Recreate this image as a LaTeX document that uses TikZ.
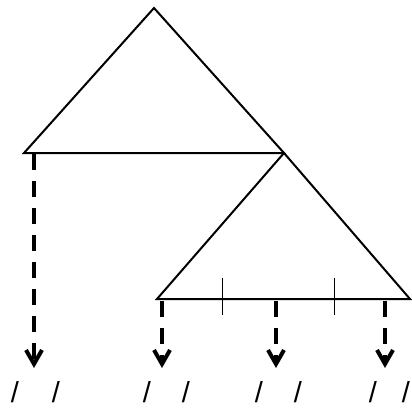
\documentclass[tikz,border=0pt]{standalone}
\usepackage{fontspec}
\setmainfont{Liberation Sans}
\usetikzlibrary{arrows.meta}
\begin{document}
\begin{tikzpicture}[x=1pt,y=-1pt,
  tri/.style={line width=2pt,line join=miter},
  tick/.style={line width=1pt},
  darrow/.style={line width=4pt,dash pattern=on 16pt off 11pt,
    -{Straight Barb[length=14pt,width=16pt,line width=4pt]}},
  slash/.style={inner sep=0pt,font=\fontsize{29}{30}\selectfont}]
\useasboundingbox (0,0) rectangle (412,408);
% big triangle
\coordinate (A) at (154,8);
\coordinate (B) at (24,153);
\coordinate (C) at (284,153);
\draw[tri] (A) -- (B) -- (C) -- cycle;
% small triangle
\coordinate (D) at (157,299);
\coordinate (E) at (410,299);
\draw[tri] (C) -- (D) -- (E) -- cycle;
% ticks
\coordinate (t1a) at (222,278); \coordinate (t1b) at (222,315);
\coordinate (t2a) at (334,278); \coordinate (t2b) at (334,315);
\draw[tick] (t1a) -- (t1b);
\draw[tick] (t2a) -- (t2b);
% arrows
\coordinate (s1) at (34,154);  \coordinate (e1) at (34,368);
\coordinate (s2) at (162,301); \coordinate (e2) at (162,368);
\coordinate (s3) at (276,301); \coordinate (e3) at (276,368);
\coordinate (s4) at (385,301); \coordinate (e4) at (385,368);
\draw[darrow] (s1) -- (e1);
\draw[darrow] (s2) -- (e2);
\draw[darrow] (s3) -- (e3);
\draw[darrow] (s4) -- (e4);
% slashes
\node[slash] (l1) at (15,392) {/};
\node[slash] (l2) at (56,392) {/};
\node[slash] (l3) at (147,392) {/};
\node[slash] (l4) at (186,392) {/};
\node[slash] (l5) at (259,392) {/};
\node[slash] (l6) at (298,392) {/};
\node[slash] (l7) at (373,392) {/};
\node[slash] (l8) at (406,392) {/};
\end{tikzpicture}
\end{document}
